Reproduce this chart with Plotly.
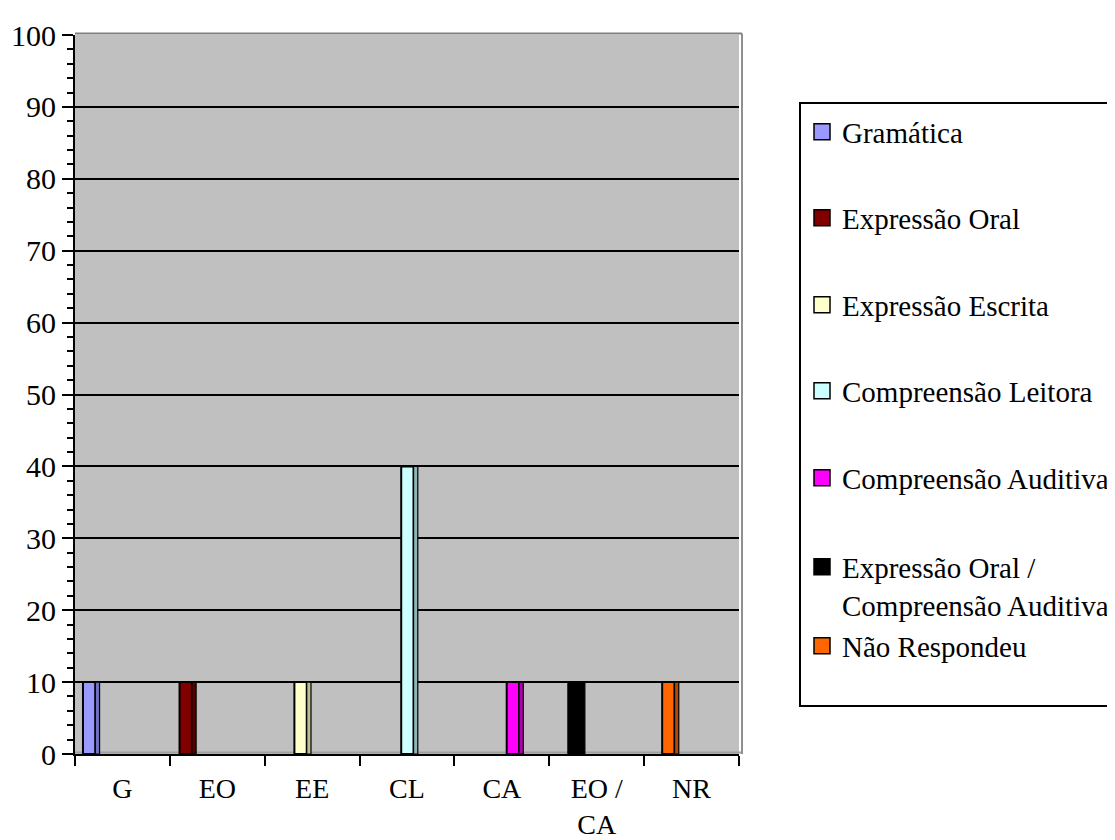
import plotly.graph_objects as go

# ---- data ----
categories = ["G", "EO", "EE", "CL", "CA", "EO /<br>CA", "NR"]
series_names = [
    "Gramática",
    "Expressão Oral",
    "Expressão Escrita",
    "Compreensão Leitora",
    "Compreensão Auditiva",
    "Expressão Oral /<br>Compreensão Auditiva",
    "Não Respondeu",
]
values = [10, 10, 10, 40, 10, 10, 10]
y_ticks = [0, 10, 20, 30, 40, 50, 60, 70, 80, 90, 100]

# ---- styles ----
front_colors = ["#9999FF", "#800000", "#FFFFCC", "#CCFFFF", "#FF00FF", "#000000", "#FF6600"]
side_colors = ["#7070C0", "#580000", "#BDBD96", "#8FB5B5", "#B000B0", "#000000", "#B04600"]
offsets = [-0.416, -0.398, -0.187, -0.061, 0.051, -0.300, -0.310]
front_w = 0.13
side_w = 0.045
legend_y_px = [124, 210, 297, 383, 470, 578, 638]

FONT = "Liberation Serif, Times New Roman, serif"
W, H = 1115, 840
ML, MR, MT, MB = 67, 384, 27, 94
PW, PH = W - ML - MR, H - MT - MB

fig = go.Figure()
legend_ids = ["legend"] + [f"legend{i}" for i in range(2, 8)]

for i, name in enumerate(series_names):
    fig.add_trace(go.Bar(
        x=[categories[i]], y=[values[i]], name=name,
        offset=offsets[i], width=front_w,
        marker=dict(color=front_colors[i], line=dict(color="black", width=2)),
        legendgroup=f"s{i}", showlegend=False,
    ))
    fig.add_trace(go.Bar(
        x=[categories[i]], y=[values[i]], name=name,
        offset=offsets[i] + front_w, width=side_w,
        marker=dict(color=side_colors[i], line=dict(color="black", width=1.2)),
        legendgroup=f"s{i}", showlegend=False, hoverinfo="skip",
    ))
    # legend entry (square swatch)
    fig.add_trace(go.Scatter(
        x=[None], y=[None], name=name, mode="markers",
        marker=dict(symbol="square", size=16, color=front_colors[i],
                    line=dict(color="black", width=1.5)),
        legendgroup=f"s{i}", legend=legend_ids[i], showlegend=True,
    ))

layout_legends = {}
for i, lid in enumerate(legend_ids):
    layout_legends[lid] = dict(
        xref="container", yref="container",
        x=794 / W, y=1 - legend_y_px[i] / H,
        xanchor="left", yanchor="middle",
        bgcolor="rgba(0,0,0,0)", borderwidth=0,
        font=dict(family=FONT, size=29, color="black"),
        valign="top",
    )

def px_x(p):
    return (p - ML) / PW

def px_y(p):
    return (H - MB - p) / PH

shapes = [
    # legend box
    dict(type="rect", xref="paper", yref="paper",
         x0=px_x(792), x1=px_x(1130), y0=px_y(698), y1=px_y(95),
         line=dict(color="black", width=2), fillcolor="rgba(0,0,0,0)"),
    # top and right wall edges
    dict(type="line", xref="paper", yref="paper", x0=0, x1=px_x(734), y0=1.002, y1=1.002,
         line=dict(color="#808080", width=2)),
    dict(type="line", xref="paper", yref="paper", x0=px_x(734), x1=px_x(734), y0=0, y1=1.002,
         line=dict(color="#909090", width=2)),
    # floor edge
    dict(type="line", xref="paper", yref="paper", x0=0, x1=px_x(734), y0=px_y(744.5), y1=px_y(744.5),
         line=dict(color="#A0A0A0", width=2), layer="below"),
]

fig.update_layout(
    width=W, height=H,
    margin=dict(l=ML, r=MR, t=MT, b=MB, autoexpand=False),
    paper_bgcolor="white",
    plot_bgcolor="#C0C0C0",
    barmode="overlay",
    font=dict(family=FONT, size=29, color="black"),
    shapes=shapes,
    xaxis=dict(
        type="category", categoryorder="array", categoryarray=categories,
        range=[-0.5, 6.5], tickson="boundaries",
        ticks="outside", ticklen=10, tickwidth=2, tickcolor="black",
        showline=True, linecolor="black", linewidth=2,
        showgrid=False, zeroline=False,
        tickfont=dict(family=FONT, size=28, color="black"),
        ticklabelstandoff=8,
    ),
    yaxis=dict(
        range=[0, 100], tickmode="array", tickvals=y_ticks,
        ticks="outside", ticklen=11, tickwidth=2, tickcolor="black",
        showline=True, linecolor="black", linewidth=2,
        showgrid=True, gridcolor="black", gridwidth=1.5,
        zeroline=False,
        minor=dict(dtick=2, ticks="outside", ticklen=6, tickwidth=2, tickcolor="black", showgrid=False),
        tickfont=dict(family=FONT, size=30, color="black"),
    ),
    **layout_legends,
)

fig.write_html("out.html")
